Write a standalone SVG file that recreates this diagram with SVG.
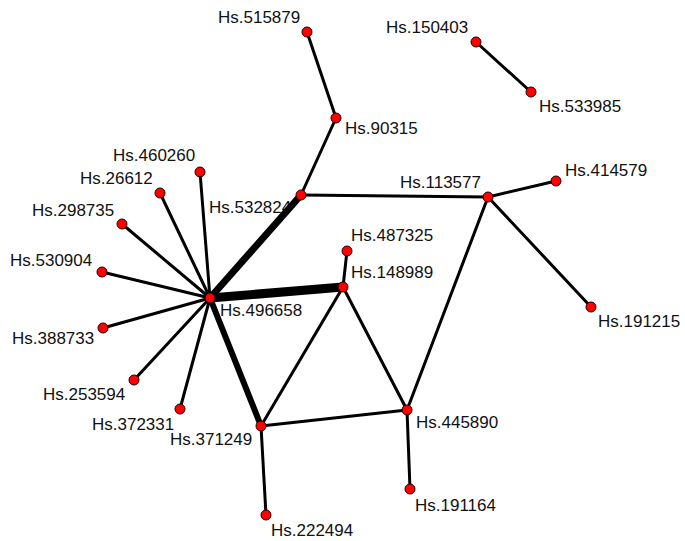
<svg xmlns="http://www.w3.org/2000/svg" width="685" height="541" viewBox="0 0 685 541">
<style>
.e{stroke:#000;stroke-width:3;stroke-linecap:round;fill:none}
.n circle{fill:#ff0000;stroke:#200;stroke-width:1}
text{font-family:"Liberation Sans",Arial,sans-serif;font-size:17px;fill:#111}
</style>
<rect width="685" height="541" fill="#fff"/>
<g id="labels">
<text x="218" y="23">Hs.515879</text>
<text x="386" y="33">Hs.150403</text>
<text x="539" y="112">Hs.533985</text>
<text x="345" y="134">Hs.90315</text>
<text x="400" y="188">Hs.113577</text>
<text x="565" y="176">Hs.414579</text>
<text x="209" y="213">Hs.532824</text>
<text x="113" y="161">Hs.460260</text>
<text x="80" y="184">Hs.26612</text>
<text x="32" y="216">Hs.298735</text>
<text x="10" y="266">Hs.530904</text>
<text x="220" y="316">Hs.496658</text>
<text x="12" y="344">Hs.388733</text>
<text x="43" y="400">Hs.253594</text>
<text x="92" y="430">Hs.372331</text>
<text x="170" y="445">Hs.371249</text>
<text x="351" y="241">Hs.487325</text>
<text x="351" y="278">Hs.148989</text>
<text x="416" y="428">Hs.445890</text>
<text x="598" y="327">Hs.191215</text>
<text x="415" y="511">Hs.191164</text>
<text x="271" y="536">Hs.222494</text>
</g>
<g id="connectors">
<line class="e" x1="307" y1="32" x2="336" y2="118"/>
<line class="e" x1="336" y1="118" x2="301" y2="195"/>
<line class="e" x1="301" y1="195" x2="488" y2="197"/>
<line class="e" x1="488" y1="197" x2="556" y2="181"/>
<line class="e" x1="488" y1="197" x2="591" y2="307"/>
<line class="e" x1="488" y1="197" x2="407" y2="410"/>
<line class="e" x1="476" y1="42" x2="531" y2="92"/>
<line class="e" x1="210" y1="298" x2="301" y2="195" style="stroke-width:7"/>
<line class="e" x1="210" y1="298" x2="343" y2="287" style="stroke-width:9"/>
<line class="e" x1="210" y1="298" x2="261" y2="426" style="stroke-width:6"/>
<line class="e" x1="210" y1="298" x2="200" y2="172"/>
<line class="e" x1="210" y1="298" x2="160" y2="193"/>
<line class="e" x1="210" y1="298" x2="122" y2="224"/>
<line class="e" x1="210" y1="298" x2="102" y2="272"/>
<line class="e" x1="210" y1="298" x2="103" y2="328"/>
<line class="e" x1="210" y1="298" x2="134" y2="380"/>
<line class="e" x1="210" y1="298" x2="180" y2="409"/>
<line class="e" x1="343" y1="287" x2="347" y2="251"/>
<line class="e" x1="343" y1="287" x2="261" y2="426"/>
<line class="e" x1="343" y1="287" x2="407" y2="410"/>
<line class="e" x1="261" y1="426" x2="407" y2="410"/>
<line class="e" x1="261" y1="426" x2="266" y2="515"/>
<line class="e" x1="407" y1="410" x2="410" y2="489"/>
</g>
<g class="n">
<g id="n515879"><circle cx="307" cy="32" r="5"/></g>
<g id="n150403"><circle cx="476" cy="42" r="5"/></g>
<g id="n533985"><circle cx="531" cy="92" r="5"/></g>
<g id="n90315"><circle cx="336" cy="118" r="5"/></g>
<g id="n532824"><circle cx="301" cy="195" r="5"/></g>
<g id="n113577"><circle cx="488" cy="197" r="5"/></g>
<g id="n414579"><circle cx="556" cy="181" r="5"/></g>
<g id="n191215"><circle cx="591" cy="307" r="5"/></g>
<g id="n460260"><circle cx="200" cy="172" r="5"/></g>
<g id="n26612"><circle cx="160" cy="193" r="5"/></g>
<g id="n298735"><circle cx="122" cy="224" r="5"/></g>
<g id="n530904"><circle cx="102" cy="272" r="5"/></g>
<g id="n496658"><circle cx="210" cy="298" r="5"/></g>
<g id="n388733"><circle cx="103" cy="328" r="5"/></g>
<g id="n253594"><circle cx="134" cy="380" r="5"/></g>
<g id="n372331"><circle cx="180" cy="409" r="5"/></g>
<g id="n371249"><circle cx="261" cy="426" r="5"/></g>
<g id="n487325"><circle cx="347" cy="251" r="5"/></g>
<g id="n148989"><circle cx="343" cy="287" r="5"/></g>
<g id="n445890"><circle cx="407" cy="410" r="5"/></g>
<g id="n191164"><circle cx="410" cy="489" r="5"/></g>
<g id="n222494"><circle cx="266" cy="515" r="5"/></g>
</g>
</svg>
